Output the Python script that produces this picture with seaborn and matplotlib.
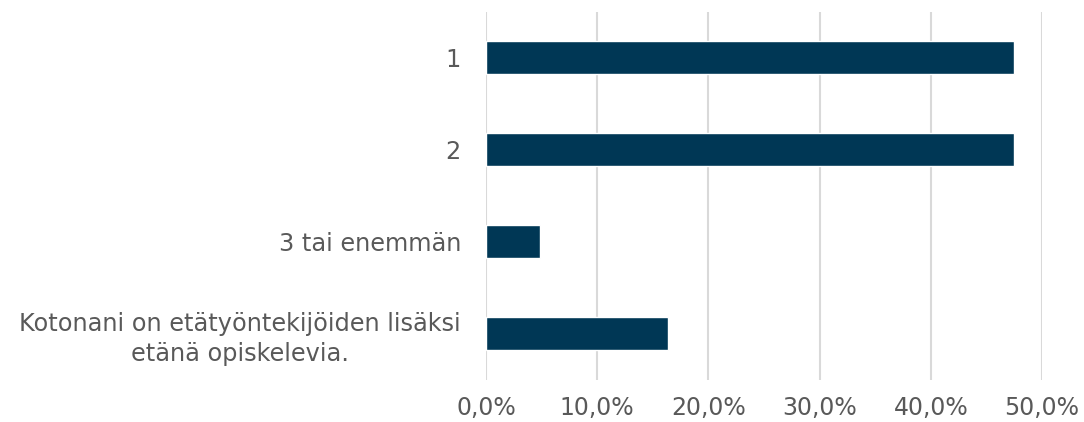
import seaborn as sns
import matplotlib.pyplot as plt
import pandas as pd
from matplotlib.ticker import FuncFormatter

categories = ["1", "2", "3 tai enemmän",
              "Kotonani on etätyöntekijöiden lisäksi\netänä opiskelevia."]
shares = [47.5, 47.5, 4.9, 16.4]

df = pd.DataFrame({"label": categories, "share": shares})

sns.set_style("white")
plt.rcParams['font.family'] = ['DejaVu Sans']
text_col = "#595959"

fig = plt.figure(figsize=(10.84, 4.22), dpi=100)
ax = fig.add_axes([0.4483, 0.1007, 0.9613 - 0.4483, 0.9727 - 0.1007])

sns.barplot(data=df, y="label", x="share", orient="h", color="#003755",
            width=0.35, ax=ax, saturation=1)

ax.set_xlim(0, 50)
ax.set_ylim(3.5, -0.5)
ax.set_xticks([0, 10, 20, 30, 40, 50])
ax.xaxis.set_major_formatter(FuncFormatter(lambda v, p: f"{v:.1f}%".replace(".", ",")))
ax.grid(axis="x", color="#d9d9d9", linewidth=1.5)
ax.set_axisbelow(True)
for s in ax.spines.values():
    s.set_visible(False)
ax.set_xlabel("")
ax.set_ylabel("")
ax.tick_params(axis="x", length=0, pad=12, labelsize=17, labelcolor=text_col)
ax.tick_params(axis="y", length=0, pad=18, labelsize=17.3, labelcolor=text_col)
for t in ax.get_yticklabels():
    t.set_multialignment("center")
    t.set_linespacing(1.3)

fig.savefig("out.png", dpi=100)
